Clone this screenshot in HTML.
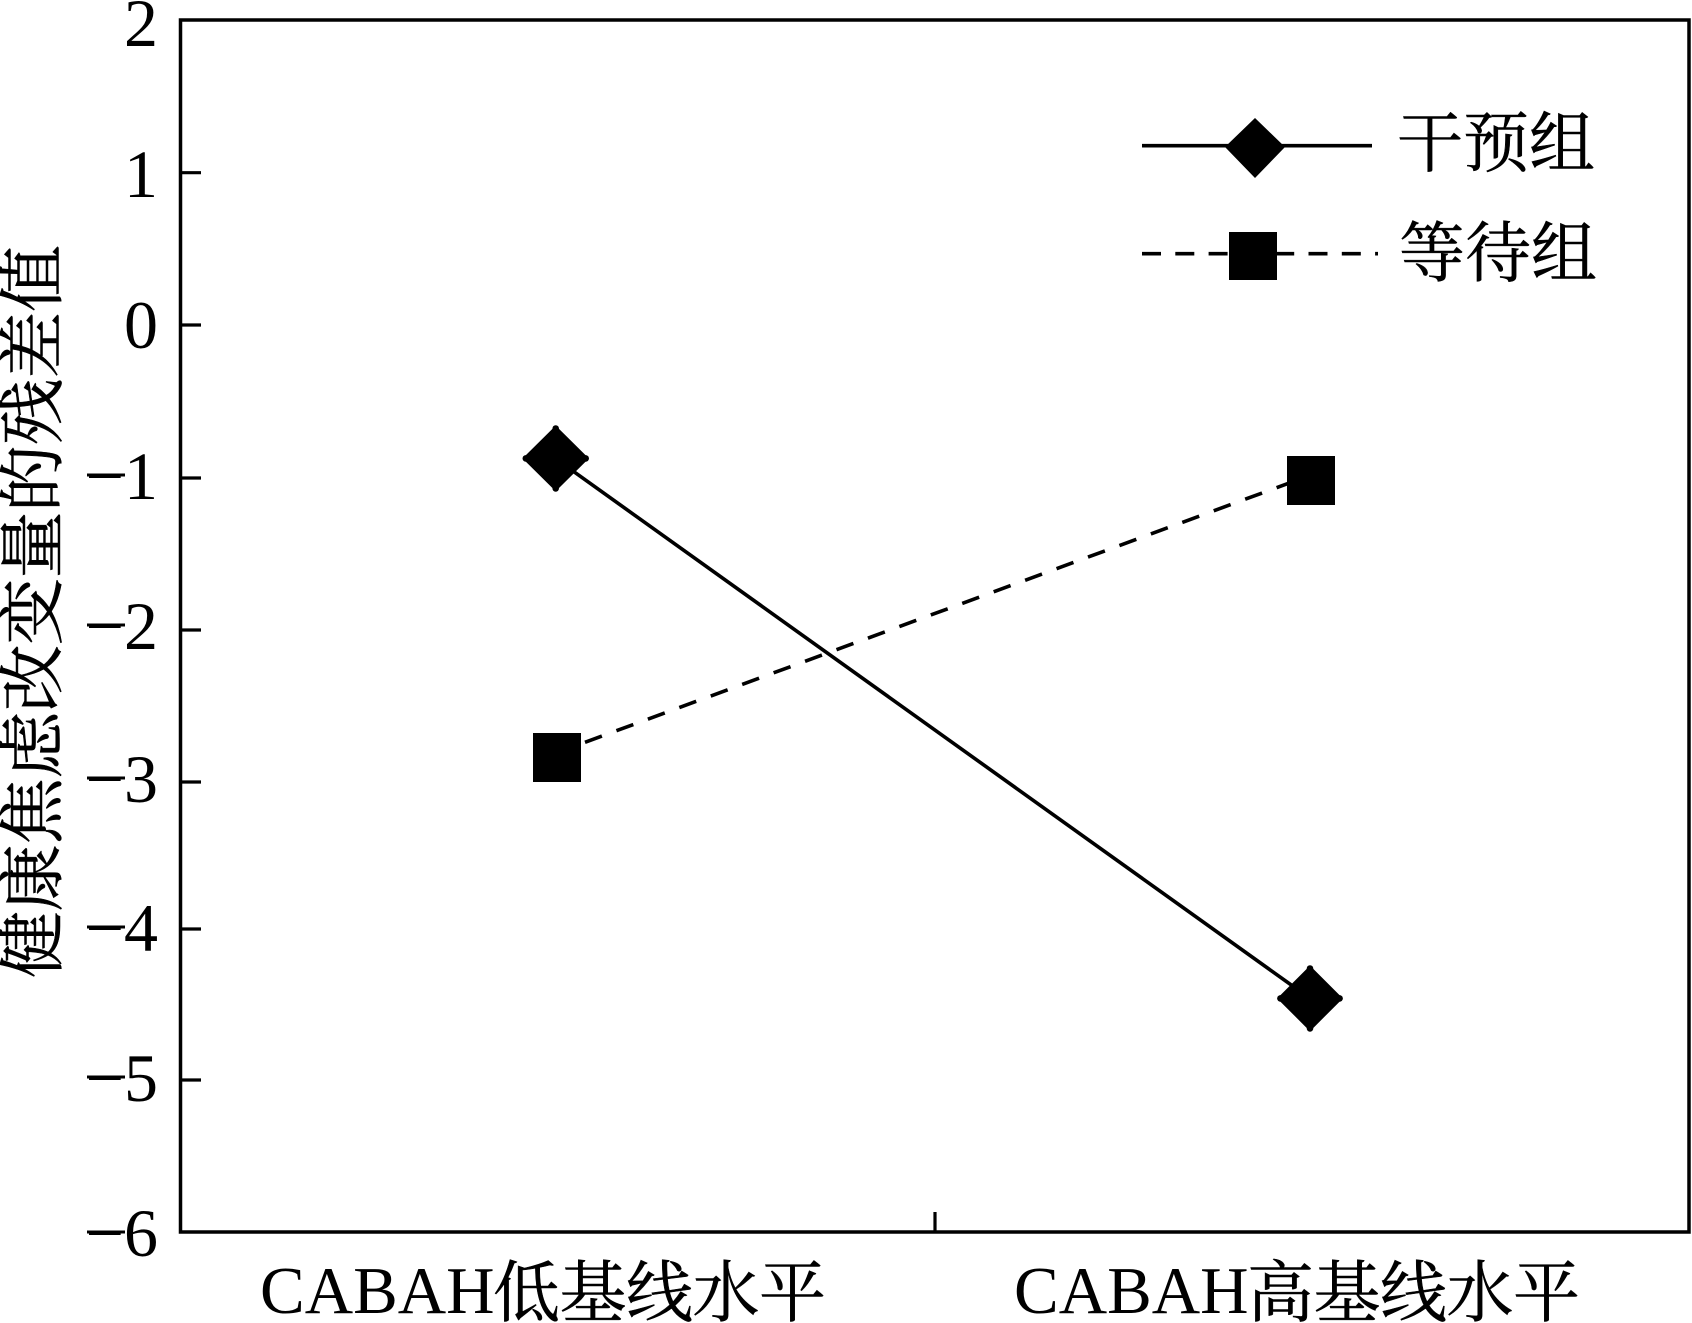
<!DOCTYPE html>
<html lang="zh"><head><meta charset="utf-8"><style>
html,body{margin:0;padding:0;background:#fff;width:1692px;height:1323px;overflow:hidden}
svg{display:block}
text{fill:#000;font-family:"Liberation Serif","Noto Serif CJK SC",serif}
.cjk{stroke:#000;stroke-width:.5}
</style></head><body>
<svg width="1692" height="1323" viewBox="0 0 1692 1323" xmlns="http://www.w3.org/2000/svg">
<rect x="180.5" y="20" width="1508.5" height="1212" fill="none" stroke="#000" stroke-width="3.5"/>
<g stroke="#000" stroke-width="3.2">
<line x1="181" y1="172.7" x2="201" y2="172.7"/>
<line x1="181" y1="325" x2="201" y2="325"/>
<line x1="181" y1="478" x2="201" y2="478"/>
<line x1="181" y1="630" x2="201" y2="630"/>
<line x1="181" y1="782" x2="201" y2="782"/>
<line x1="181" y1="929" x2="201" y2="929"/>
<line x1="181" y1="1080" x2="201" y2="1080"/>
<line x1="935" y1="1212" x2="935" y2="1232"/>
</g>
<g font-size="68" text-anchor="end">
<text x="158" y="46">2</text>
<text x="158" y="197">1</text>
<text x="158" y="348">0</text>
<text x="158" y="499">−1</text>
<text x="158" y="649">−2</text>
<text x="158" y="802">−3</text>
<text x="158" y="951">−4</text>
<text x="158" y="1101">−5</text>
<text x="158" y="1256">−6</text>
</g>
<g stroke="#000" stroke-width="3">
<line x1="87" y1="475" x2="125" y2="475"/>
<line x1="87" y1="625" x2="125" y2="625"/>
<line x1="87" y1="778" x2="125" y2="778"/>
<line x1="87" y1="927" x2="125" y2="927"/>
<line x1="87" y1="1077" x2="125" y2="1077"/>
<line x1="87" y1="1232" x2="125" y2="1232"/>
</g>
<text class="cjk" transform="translate(56,978) rotate(-90)" font-size="67" textLength="733" lengthAdjust="spacing">健康焦虑改变量的残差值</text>
<text x="260" y="1313" font-size="67">CABAH</text>
<text class="cjk" x="493" y="1316" font-size="67" textLength="333" lengthAdjust="spacing">低基线水平</text>
<text x="1014" y="1313" font-size="67">CABAH</text>
<text class="cjk" x="1247" y="1316" font-size="67" textLength="333" lengthAdjust="spacing">高基线水平</text>
<line x1="555.7" y1="458.7" x2="1310" y2="998.4" stroke="#000" stroke-width="3.6"/>
<line x1="585" y1="742.3" x2="1311" y2="475" stroke="#000" stroke-width="3.6" stroke-dasharray="18 15.5"/>
<g fill="#000" stroke="#000">
<polygon points="555.7,428.4 586,458.4 555.7,488.4 525.4,458.4" stroke-width="4" stroke-linejoin="round"/>
<polygon points="1310,968.4 1340,998.4 1310,1028.4 1280,998.4" stroke-width="4" stroke-linejoin="round"/>
<circle cx="555.7" cy="428.5" r="3.3" stroke="none"/><circle cx="555.7" cy="488.4" r="3.3" stroke="none"/><circle cx="525.8" cy="458.4" r="3.3" stroke="none"/><circle cx="585.7" cy="458.4" r="3.3" stroke="none"/>
<circle cx="1310" cy="968.5" r="3.3" stroke="none"/><circle cx="1310" cy="1028.4" r="3.3" stroke="none"/><circle cx="1280.4" cy="998.4" r="3.3" stroke="none"/><circle cx="1339.6" cy="998.4" r="3.3" stroke="none"/>
</g>
<rect x="533" y="733" width="48" height="49" fill="#000"/>
<rect x="1287" y="456" width="48" height="49" fill="#000"/>
<line x1="1142" y1="145.7" x2="1372" y2="145.7" stroke="#000" stroke-width="3.6"/>
<polygon points="1255,118 1285,147 1255,178 1225,147" fill="#000"/>
<line x1="1142" y1="253.7" x2="1378" y2="253.7" stroke="#000" stroke-width="3.6" stroke-dasharray="19 14.3"/>
<rect x="1229" y="232" width="48" height="48" fill="#000"/>
<text class="cjk" x="1397" y="166" font-size="66">干预组</text>
<text class="cjk" x="1399" y="276" font-size="66">等待组</text>
</svg>
</body></html>
